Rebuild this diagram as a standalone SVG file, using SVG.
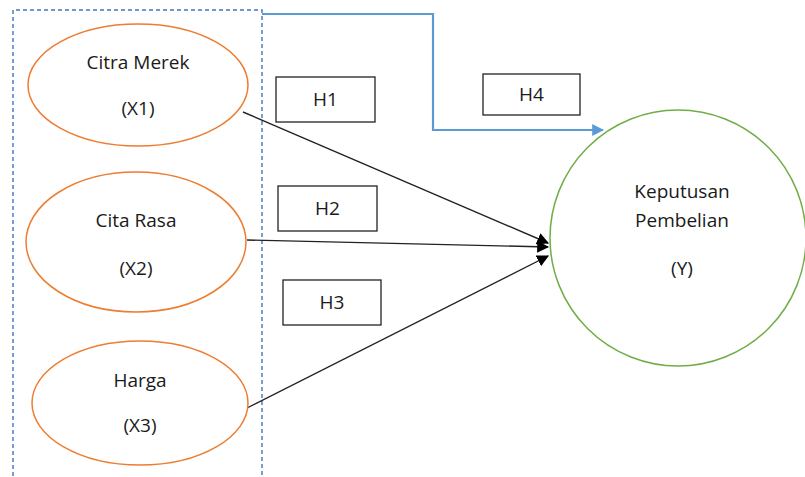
<svg xmlns="http://www.w3.org/2000/svg" width="805" height="477" viewBox="0 0 805 477">
<defs>
<style>
.t{font-family:"Open Sans","Liberation Sans",sans-serif;font-size:19px;fill:#1a1a1a;text-anchor:middle}
.ell{fill:#fff;stroke:#ED7D31;stroke-width:1.5}
.box{fill:#fff;stroke:#222;stroke-width:1.3}
.ar{stroke:#222;stroke-width:1.4;fill:none}
</style>
<marker id="ah" viewBox="0 0 10 10" refX="9" refY="5" markerWidth="12" markerHeight="12" markerUnits="userSpaceOnUse" orient="auto"><path d="M0,0 L10,5 L0,10 z" fill="#000"/></marker>
<marker id="ahb" viewBox="0 0 10 10" refX="9" refY="5" markerWidth="12" markerHeight="12" markerUnits="userSpaceOnUse" orient="auto"><path d="M0,0 L10,5 L0,10 z" fill="#5B9BD5"/></marker>
</defs>
<rect width="805" height="477" fill="#fff"/>
<g id="group-box">
<path d="M13,490 L13,10 L262,10 L262,490" fill="none" stroke="#4472C4" stroke-width="1.4" stroke-dasharray="4,3"/>
</g>
<g id="connectors">
<path d="M262,14 L433,14 L433,130 L603,130" fill="none" stroke="#5B9BD5" stroke-width="2.2" marker-end="url(#ahb)"/>
<line class="ar" x1="243" y1="112" x2="548" y2="243" marker-end="url(#ah)"/>
<line class="ar" x1="247" y1="240" x2="548" y2="247" marker-end="url(#ah)"/>
<line class="ar" x1="247" y1="408" x2="548" y2="256" marker-end="url(#ah)"/>
</g>
<g id="x1">
<ellipse class="ell" cx="138" cy="85" rx="110" ry="61"/>
<text class="t" x="138" y="69">Citra Merek</text>
<text class="t" x="138" y="115">(X1)</text>
</g>
<g id="x2">
<ellipse class="ell" cx="136" cy="242" rx="110" ry="70"/>
<text class="t" x="136" y="227">Cita Rasa</text>
<text class="t" x="136" y="275">(X2)</text>
</g>
<g id="x3">
<ellipse class="ell" cx="140" cy="403" rx="108" ry="62"/>
<text class="t" x="140" y="387">Harga</text>
<text class="t" x="140" y="432">(X3)</text>
</g>
<g id="y">
<circle cx="678" cy="238" r="128" fill="#fff" stroke="#70AD47" stroke-width="1.5"/>
<text class="t" x="682" y="198">Keputusan</text>
<text class="t" x="682" y="227">Pembelian</text>
<text class="t" x="682" y="275">(Y)</text>
</g>
<g id="h1"><rect class="box" x="276" y="77" width="99" height="45"/><text class="t" x="325.5" y="106">H1</text></g>
<g id="h2"><rect class="box" x="278" y="186" width="99" height="45"/><text class="t" x="327.5" y="215">H2</text></g>
<g id="h3"><rect class="box" x="283" y="280" width="98" height="45"/><text class="t" x="332" y="309">H3</text></g>
<g id="h4"><rect class="box" x="483" y="74" width="97" height="41"/><text class="t" x="531.5" y="101">H4</text></g>
</svg>
